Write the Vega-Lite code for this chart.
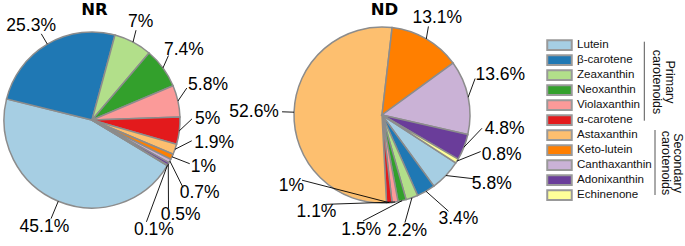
{
  "$schema": "https://vega.github.io/schema/vega-lite/v6.json",
  "width": 685,
  "height": 246,
  "padding": 0,
  "autosize": {"type": "none"},
  "config": {"view": {"stroke": null}},
  "layer": [
    {
      "data": {
        "values": [
          {"sample": "NR", "pigment": "Lutein", "value": 45.1},
          {"sample": "NR", "pigment": "β-carotene", "value": 25.3},
          {"sample": "NR", "pigment": "Zeaxanthin", "value": 7},
          {"sample": "NR", "pigment": "Neoxanthin", "value": 7.4},
          {"sample": "NR", "pigment": "Violaxanthin", "value": 5.8},
          {"sample": "NR", "pigment": "α-carotene", "value": 5},
          {"sample": "NR", "pigment": "Astaxanthin", "value": 1.9},
          {"sample": "NR", "pigment": "Keto-lutein", "value": 1},
          {"sample": "NR", "pigment": "Canthaxanthin", "value": 0.7},
          {"sample": "NR", "pigment": "Adonixanthin", "value": 0.5},
          {"sample": "NR", "pigment": "Echinenone", "value": 0.1},
          {"sample": "ND", "pigment": "Lutein", "value": 5.8},
          {"sample": "ND", "pigment": "β-carotene", "value": 3.4},
          {"sample": "ND", "pigment": "Zeaxanthin", "value": 2.2},
          {"sample": "ND", "pigment": "Neoxanthin", "value": 1.5},
          {"sample": "ND", "pigment": "Violaxanthin", "value": 1.1},
          {"sample": "ND", "pigment": "α-carotene", "value": 1},
          {"sample": "ND", "pigment": "Astaxanthin", "value": 52.6},
          {"sample": "ND", "pigment": "Keto-lutein", "value": 13.1},
          {"sample": "ND", "pigment": "Canthaxanthin", "value": 13.6},
          {"sample": "ND", "pigment": "Adonixanthin", "value": 4.8},
          {"sample": "ND", "pigment": "Echinenone", "value": 0.8}
        ]
      },
      "transform": [
        {"calculate": "indexof(['Lutein','β-carotene','Zeaxanthin','Neoxanthin','Violaxanthin','α-carotene','Astaxanthin','Keto-lutein','Canthaxanthin','Adonixanthin','Echinenone'], datum.pigment)", "as": "order"},
        {"calculate": "datum.sample === 'NR' ? 92 : 382", "as": "cx"},
        {"calculate": "datum.sample === 'NR' ? 120 : 115", "as": "cy"},
        {"calculate": "datum.sample === 'NR' ? 121.2 : 123", "as": "a0"},
        {"window": [{"op": "sum", "field": "value", "as": "cum"}], "groupby": ["sample"], "sort": [{"field": "order", "order": "ascending"}], "frame": [null, 0]},
        {"joinaggregate": [{"op": "sum", "field": "value", "as": "total"}, {"op": "argmax", "field": "value", "as": "amax"}], "groupby": ["sample"]},
        {"calculate": "(datum.a0 + 360 * (datum.cum - datum.value) / datum.total) * PI / 180", "as": "t1"},
        {"calculate": "(datum.a0 + 360 * datum.cum / datum.total) * PI / 180", "as": "t2"},
        {"calculate": "datum.a0 + 360 * (datum.cum - datum.value / 2) / datum.total", "as": "midDeg"},
        {"calculate": "(datum.order - datum.amax.order + 11) % 11", "as": "proc"},
        {"calculate": "datum.midDeg + (datum.order < datum.amax.order ? 360 : 0)", "as": "mu"},
        {"calculate": "datum.value + '%'", "as": "lab"},
        {"calculate": "15.6 + 9.8 * (length(datum.lab) - 1) - (indexof(datum.lab, '.') >= 0 ? 4.9 : 0)", "as": "lw"},
        {"calculate": "datum.mu * PI / 180", "as": "mur"},
        {"calculate": "cos(datum.mur) >= 0 ? 100 : (sin(datum.mur) < 0 ? 100 + 8 * pow(cos(datum.mur), 2) : 1 / pow(pow(abs(sin(datum.mur)) / 100, 3) + pow(abs(cos(datum.mur)) / 108, 3), 1 / 3))", "as": "rm"},
        {"window": [{"op": "lag", "field": "lw", "as": "lwp"}], "groupby": ["sample"], "sort": [{"field": "proc", "order": "ascending"}]},
        {"calculate": "(180 / PI) * min(((datum.lw + (datum.lwp || datum.lw)) / 2 + 5) / ((datum.rm + 9) * max(abs(cos(datum.mur)), 0.02)), 21 / (datum.rm * max(abs(sin(datum.mur)), 0.02)))", "as": "sep"},
        {"window": [{"op": "sum", "field": "sep", "as": "S"}], "groupby": ["sample"], "sort": [{"field": "proc", "order": "ascending"}], "frame": [null, 0]},
        {"calculate": "datum.mu - datum.S", "as": "d"},
        {"window": [{"op": "max", "field": "d", "as": "dmax"}], "groupby": ["sample"], "sort": [{"field": "proc", "order": "ascending"}], "frame": [null, 0]},
        {"window": [{"op": "min", "field": "d", "as": "dmin"}], "groupby": ["sample"], "sort": [{"field": "proc", "order": "ascending"}], "frame": [0, null]},
        {"calculate": "(datum.S + 0.8 * datum.dmax + 0.2 * datum.dmin) * PI / 180", "as": "la"},
        {"calculate": "cos(datum.la) >= 0 ? 100 : (sin(datum.la) < 0 ? 100 + 8 * pow(cos(datum.la), 2) : 1 / pow(pow(abs(sin(datum.la)) / 100, 3) + pow(abs(cos(datum.la)) / 108, 3), 1 / 3))", "as": "rl"},
        {"calculate": "datum.midDeg * PI / 180", "as": "mr"},
        {"calculate": "datum.cx + 88 * sin(datum.mr)", "as": "ex"},
        {"calculate": "datum.cy - 88 * cos(datum.mr)", "as": "ey"},
        {"calculate": "datum.cx + datum.rl * sin(datum.la)", "as": "px"},
        {"calculate": "datum.cy - datum.rl * cos(datum.la)", "as": "py"},
        {"calculate": "datum.px + (datum.lw / 2 + 3) * (sin(datum.la) >= 0 ? 1 : -1) * pow(abs(sin(datum.la)), 1.5)", "as": "tx"},
        {"calculate": "datum.py - 9 * cos(datum.la)", "as": "ty"}
      ],
      "layer": [
        {
          "mark": {"type": "arc", "outerRadius": 88, "stroke": "#8c8c8c", "strokeWidth": 1.5},
          "encoding": {
            "x": {"field": "cx", "type": "quantitative", "scale": {"domain": [0, 685], "nice": false, "zero": false}, "axis": null},
            "y": {"field": "cy", "type": "quantitative", "scale": {"domain": [0, 246], "nice": false, "zero": false, "reverse": true}, "axis": null},
            "theta": {"field": "t1", "type": "quantitative", "scale": null},
            "theta2": {"field": "t2"},
            "color": {
              "field": "pigment",
              "type": "nominal",
              "scale": {
                "domain": ["Lutein", "β-carotene", "Zeaxanthin", "Neoxanthin", "Violaxanthin", "α-carotene", "Astaxanthin", "Keto-lutein", "Canthaxanthin", "Adonixanthin", "Echinenone"],
                "range": ["#a6cee3", "#1f78b4", "#b2df8a", "#33a02c", "#fb9a99", "#e31a1c", "#fdbf6f", "#ff7f00", "#cab2d6", "#6a3d9a", "#ffff99"]
              },
              "legend": {
                "orient": "none",
                "legendX": 546,
                "legendY": 37.9,
                "title": null,
                "padding": 0,
                "symbolType": "M-1,-0.4H1V0.4H-1Z",
                "symbolSize": 600,
                "symbolStrokeColor": "#999999",
                "symbolStrokeWidth": 2,
                "symbolOffset": 0,
                "symbolOpacity": 1,
                "labelFont": "Liberation Sans",
                "labelFontSize": 11.6,
                "labelColor": "#111111",
                "labelOffset": 4,
                "labelLimit": 0,
                "clipHeight": 14.6,
                "rowPadding": 0
              }
            }
          }
        },
        {
          "mark": {"type": "rule", "color": "#000000", "strokeWidth": 0.9},
          "encoding": {
            "x": {"field": "ex", "type": "quantitative"},
            "y": {"field": "ey", "type": "quantitative"},
            "x2": {"field": "px"},
            "y2": {"field": "py"}
          }
        },
        {
          "mark": {"type": "text", "font": "Liberation Sans", "fontSize": 17.5, "align": "center", "baseline": "middle", "color": "#000000"},
          "encoding": {
            "x": {"field": "tx", "type": "quantitative"},
            "y": {"field": "ty", "type": "quantitative"},
            "text": {"field": "lab"}
          }
        },
        {
          "transform": [{"filter": "datum.order === 0"}],
          "mark": {"type": "text", "font": "DejaVu Sans", "fontWeight": "bold", "fontSize": 16.5, "align": "center", "baseline": "alphabetic", "dx": 2.5, "color": "#000000"},
          "encoding": {
            "x": {"field": "cx", "type": "quantitative"},
            "y": {"datum": 15, "type": "quantitative"},
            "text": {"field": "sample"}
          }
        }
      ]
    },
    {
      "data": {"values": [{"group": "Primary", "label": "Primary\ncarotenoids"}]},
      "layer": [
        {
          "mark": {"type": "rule", "color": "#555555", "strokeWidth": 1},
          "encoding": {
            "x": {"datum": 644.3, "type": "quantitative"},
            "y": {"datum": 41.7, "type": "quantitative"},
            "y2": {"datum": 120.7}
          }
        },
        {
          "mark": {"type": "text", "angle": 90, "lineBreak": "\n", "font": "Liberation Sans", "fontSize": 12.5, "lineHeight": 13.5, "align": "center", "baseline": "middle", "color": "#111111"},
          "encoding": {
            "x": {"datum": 670, "type": "quantitative"},
            "y": {"datum": 82, "type": "quantitative"},
            "text": {"field": "label"}
          }
        }
      ]
    },
    {
      "data": {"values": [{"group": "Secondary", "label": "Secondary\ncarotenoids"}]},
      "layer": [
        {
          "mark": {"type": "rule", "color": "#555555", "strokeWidth": 1},
          "encoding": {
            "x": {"datum": 655, "type": "quantitative"},
            "y": {"datum": 130, "type": "quantitative"},
            "y2": {"datum": 195}
          }
        },
        {
          "mark": {"type": "text", "angle": 90, "lineBreak": "\n", "font": "Liberation Sans", "fontSize": 12.5, "lineHeight": 12.3, "align": "center", "baseline": "middle", "color": "#111111"},
          "encoding": {
            "x": {"datum": 678.3, "type": "quantitative"},
            "y": {"datum": 163, "type": "quantitative"},
            "text": {"field": "label"}
          }
        }
      ]
    }
  ]
}
